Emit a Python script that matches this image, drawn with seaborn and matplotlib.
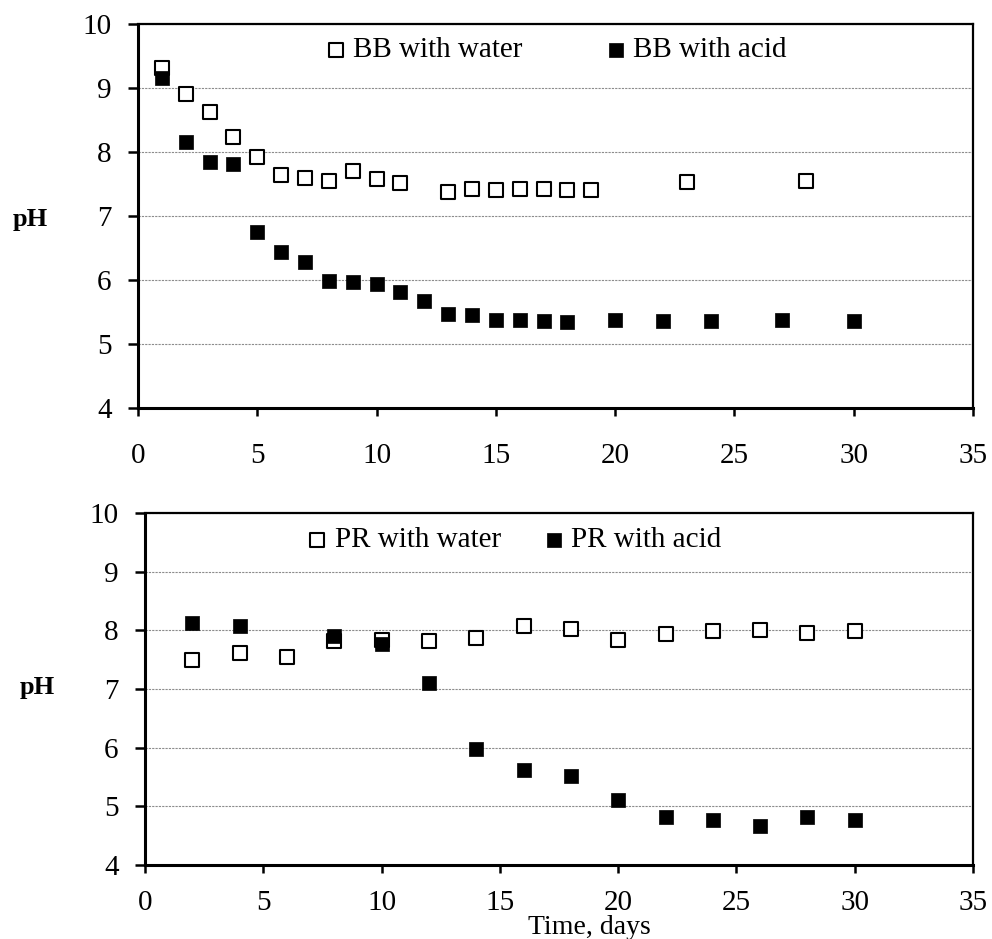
import numpy as np
import pandas as pd
import seaborn as sns
import matplotlib.pyplot as plt

sns.set_theme(style="white")
plt.rcParams['font.family'] = ['Liberation Serif', 'DejaVu Serif']
plt.rcParams['text.color'] = 'black'
plt.rcParams['axes.labelcolor'] = 'black'

# ---------------------------
# 数据
bb_water_day = [1, 2, 3, 4, 5, 6, 7, 8, 9, 10, 11, 13, 14, 15, 16, 17, 18, 19, 23, 28]
bb_water_ph = [9.32, 8.90, 8.62, 8.24, 7.92, 7.64, 7.60, 7.54, 7.70, 7.58, 7.52,
               7.38, 7.43, 7.41, 7.43, 7.42, 7.40, 7.40, 7.53, 7.54]
bb_acid_day = [1, 2, 3, 4, 5, 6, 7, 8, 9, 10, 11, 12, 13, 14, 15, 16, 17, 18, 20, 22, 24, 27, 30]
bb_acid_ph = [9.16, 8.16, 7.84, 7.81, 6.75, 6.43, 6.28, 5.98, 5.97, 5.94, 5.81, 5.67,
              5.47, 5.45, 5.38, 5.38, 5.36, 5.34, 5.37, 5.36, 5.36, 5.37, 5.36]

pr_water_day = [2, 4, 6, 8, 10, 12, 14, 16, 18, 20, 22, 24, 26, 28, 30]
pr_water_ph = [7.50, 7.62, 7.55, 7.81, 7.84, 7.82, 7.87, 8.08, 8.03, 7.84, 7.93,
               7.99, 8.01, 7.96, 7.99]
pr_acid_day = [2, 4, 8, 10, 12, 14, 16, 18, 20, 22, 24, 26, 28, 30]
pr_acid_ph = [8.13, 8.08, 7.90, 7.77, 7.11, 5.98, 5.62, 5.52, 5.11, 4.81, 4.77,
              4.67, 4.81, 4.77]

x_ticks = [0, 5, 10, 15, 20, 25, 30, 35]
y_ticks = [4, 5, 6, 7, 8, 9, 10]

fig = plt.figure(figsize=(9.92, 9.39), dpi=100)
ax1 = fig.add_axes([0.1391, 0.5655, 0.8417, 0.4089])
ax2 = fig.add_axes([0.1462, 0.0788, 0.8347, 0.3749])

fs = 21
panels = [
    (ax1, bb_water_day, bb_water_ph, bb_acid_day, bb_acid_ph, 'BB', (0.50, 0.932), 2.8, -0.129, 0.49, 19),
    (ax2, pr_water_day, pr_water_ph, pr_acid_day, pr_acid_ph, 'PR', (0.445, 0.923), 1.4, -0.130, 0.503, 12),
]

for ax, wd, wp, ad, ap, name, anchor, colsp, lx, ly, xpad in panels:
    df_w = pd.DataFrame({'day': wd, 'ph': wp})
    df_a = pd.DataFrame({'day': ad, 'ph': ap})
    sns.scatterplot(data=df_a, x='day', y='ph', ax=ax, marker='s', s=110,
                    color='black', edgecolor='black', linewidth=0.5,
                    label=f'{name} with acid', zorder=3)
    sns.scatterplot(data=df_w, x='day', y='ph', ax=ax, marker='s', s=95,
                    color='white', edgecolor='black', linewidth=1.5,
                    label=f'{name} with water', zorder=2)
    ax.set_xlim(0, 35)
    ax.set_ylim(4, 10)
    ax.set_xticks(x_ticks)
    ax.set_yticks(y_ticks)
    ax.tick_params(axis='both', labelsize=fs, colors='black')
    ax.tick_params(axis='y', direction='out', length=7, width=1.8, pad=12, left=True)
    ax.tick_params(axis='x', direction='out', length=6, width=1.8, pad=xpad, bottom=True)
    ax.grid(axis='y', linestyle=(0, (2, 1)), color='0.55', linewidth=0.8)
    ax.grid(axis='x', visible=False)
    for side in ['top', 'right']:
        ax.spines[side].set_color('black')
        ax.spines[side].set_linewidth(1.6)
    for side in ['left', 'bottom']:
        ax.spines[side].set_color('black')
        ax.spines[side].set_linewidth(2.2)
    ax.set_xlabel('')
    ax.set_ylabel('pH', rotation=0, fontsize=19, fontweight='bold', va='center', ha='center')
    ax.yaxis.set_label_coords(lx, ly)
    h, l = ax.get_legend_handles_labels()
    ax.legend(h[::-1], l[::-1], loc='center', bbox_to_anchor=anchor, ncol=2, frameon=False,
              fontsize=fs, handletextpad=0.2, handlelength=0.8, columnspacing=colsp,
              borderpad=0.1)

ax2.set_xlabel('Time, days', fontsize=20)
ax2.xaxis.set_label_coords(0.537, -0.143)

fig.savefig('out.png', dpi=100)
